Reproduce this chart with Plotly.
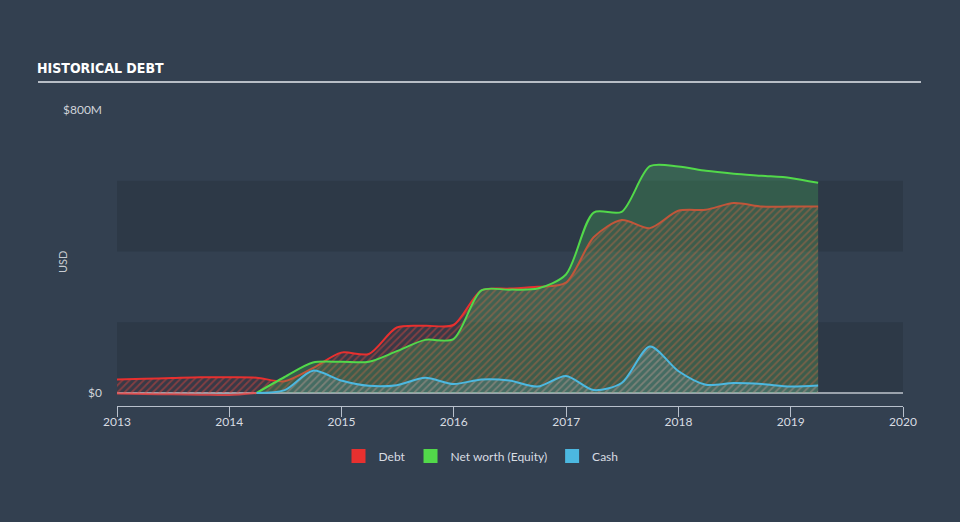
import plotly.graph_objects as go

# ---- data (values in $ millions) ----
dates = ["2012-12-31", "2013-03-31", "2013-06-30", "2013-09-30", "2013-12-31",
         "2014-03-31", "2014-06-30", "2014-09-30", "2014-12-31",
         "2015-03-31", "2015-06-30", "2015-09-30", "2015-12-31",
         "2016-03-31", "2016-06-30", "2016-09-30", "2016-12-31",
         "2017-03-31", "2017-06-30", "2017-09-30", "2017-12-31",
         "2018-03-31", "2018-06-30", "2018-09-30", "2018-12-31",
         "2019-03-31"]
debt = [38, 40, 42, 44, 44,
        43, 33, 70, 114,
        110, 185, 190, 192,
        290, 295, 300, 312,
        440, 489, 466, 515,
        518, 537, 527, 527,
        527]
equity = [-2, -3, -4, -5, -6,
          0, 45, 86, 88,
          88, 118, 150, 152,
          290, 292, 295, 335,
          510, 512, 641, 640,
          628, 620, 614, 608,
          594]
cash = [None, None, None, None, None,
        0, 8, 63, 35,
        20, 22, 43, 25,
        38, 35, 18, 48,
        8, 28, 131, 62,
        23, 28, 25, 18,
        21]
year_ticks = ["2013", "2014", "2015", "2016", "2017", "2018", "2019", "2020"]
y_ticks = [0, 800]
y_ticktext = ["$0", "$800M"]
series_names = ["Debt", "Net worth (Equity)", "Cash"]
series_colors = ["#e8302f", "#52d94a", "#4cb8e0"]

BG = "#334050"
BAND = "#2d3947"
FONT = "Lato, 'Open Sans', sans-serif"

fig = go.Figure()

# Debt (drawn first so equity fill tints it)
fig.add_trace(go.Scatter(
    x=dates, y=debt, mode="lines", line=dict(color=series_colors[0], width=2, shape="spline", smoothing=0.8),
    fill="tozeroy", fillcolor="rgba(230,50,50,0.06)",
    fillpattern=dict(shape="/", size=5, solidity=0.35, fgcolor="rgba(235,70,60,0.85)", bgcolor="rgba(230,50,50,0.06)"),
    showlegend=False, hoverinfo="skip"))

# negative-equity part edge
k = equity.index(0)
fig.add_trace(go.Scatter(
    x=dates[:k + 1], y=equity[:k + 1], mode="lines",
    line=dict(color="rgba(240,70,70,0.8)", width=2, shape="spline", smoothing=0.8),
    showlegend=False, hoverinfo="skip"))

# Equity
fig.add_trace(go.Scatter(
    x=dates[k:], y=equity[k:], mode="lines",
    line=dict(color=series_colors[1], width=2, shape="spline", smoothing=0.8),
    fill="tozeroy", fillcolor="rgba(75,200,90,0.25)",
    showlegend=False, hoverinfo="skip"))

# Cash
fig.add_trace(go.Scatter(
    x=dates[k:], y=cash[k:], mode="lines",
    line=dict(color=series_colors[2], width=2, shape="spline", smoothing=0.8),
    fill="tozeroy", fillcolor="rgba(110,200,230,0.18)",
    fillpattern=dict(shape="/", size=5, solidity=0.3, fgcolor="rgba(140,210,235,0.35)", bgcolor="rgba(110,200,230,0.15)"),
    showlegend=False, hoverinfo="skip"))

# legend entries
for name, col in zip(series_names, series_colors):
    fig.add_trace(go.Scatter(x=[None], y=[None], mode="markers", name=name,
                             marker=dict(symbol="square", size=14, color=col)))

# background bands
for y0, y1 in [(0, 200), (400, 600)]:
    fig.add_shape(type="rect", xref="x", yref="y", x0="2013-01-01", x1="2020-01-01",
                  y0=y0, y1=y1, fillcolor=BAND, line=dict(width=0), layer="below")

# title underline
fig.add_shape(type="line", xref="paper", yref="paper",
              x0=(38 - 117) / 786, x1=(921 - 117) / 786, y0=(406 - 82) / 296, y1=(406 - 82) / 296,
              line=dict(color="#b8bec6", width=2))

# y-axis title
fig.add_annotation(text="USD", xref="paper", yref="paper", x=(62 - 117) / 786, y=(406 - 262) / 296,
                   textangle=-90, showarrow=False, xanchor="center", yanchor="middle",
                   font=dict(size=11, color="#c8ccd2", family=FONT))

fig.update_layout(
    width=960, height=522,
    paper_bgcolor=BG, plot_bgcolor=BG,
    margin=dict(l=117, r=57, t=110, b=116),
    font=dict(family=FONT, color="#d4d8de", size=12),
    title=dict(text="<b>HISTORICAL DEBT</b>", xref="container", yref="container",
               x=37 / 960, y=1 - 68 / 522, xanchor="left", yanchor="middle",
               font=dict(family="'DejaVu Sans Condensed', 'DejaVu Sans', sans-serif",
                         size=14, color="#ffffff")),
    showlegend=True,
    legend=dict(orientation="h", x=(481 - 117) / 786, xanchor="center",
                y=(406 - 456) / 296, yanchor="middle",
                font=dict(size=12, color="#d8dce2"), bgcolor="rgba(0,0,0,0)",
                itemclick=False),
    xaxis=dict(type="date", range=["2013-01-01", "2020-01-01"],
               tickvals=[y + "-01-01" for y in year_ticks], ticktext=year_ticks,
               showgrid=False, zeroline=False, showline=True, linecolor="#b8c0cc", linewidth=1,
               ticks="outside", ticklen=10, tickcolor="#b8c0cc", tickwidth=1,
               ticklabelstandoff=-5,
               tickfont=dict(size=12, color="#d8dce2")),
    yaxis=dict(range=[-37, 800], tickvals=y_ticks, ticktext=y_ticktext,
               showgrid=False, zeroline=True, zerolinecolor="#9aa2ac", zerolinewidth=2,
               showline=False, ticks="", ticklabelstandoff=14,
               tickfont=dict(size=12, color="#d0d4da")),
)

fig.write_html("out.html")
